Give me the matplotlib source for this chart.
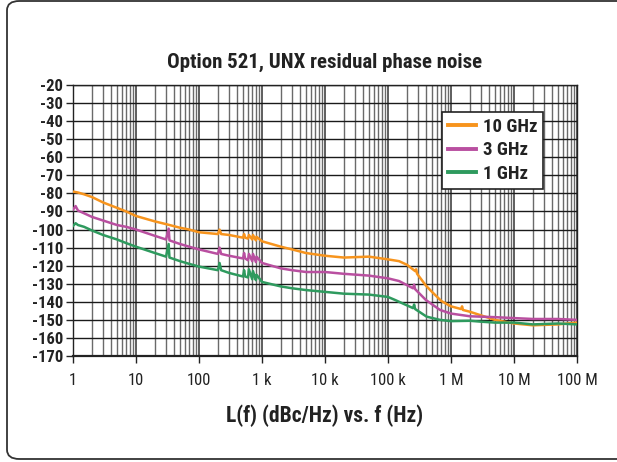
import numpy as np
import matplotlib.pyplot as plt
from matplotlib.patches import FancyBboxPatch
from matplotlib.ticker import FixedLocator, LogLocator, NullFormatter

plt.rcParams['font.family'] = ['Roboto Condensed', 'DejaVu Sans']

# The data (dBc/Hz vs offset frequency)
f_10g = [1, 1.2, 1.5, 2, 3, 5, 7, 10, 20, 30, 50, 70, 100, 200, 212, 225, 300, 500, 520, 540,
         600, 620, 700, 720, 800, 820, 1e3, 2e3, 3e3, 5e3, 1e4, 2e4, 5e4, 1e5, 1.5e5, 2e5, 2.7e5,
         2.8e5, 2.9e5, 4e5, 5e5, 7e5, 1e6, 1.45e6, 1.5e6, 1.55e6, 2e6, 3e6, 5e6, 1e7, 2e7, 5e7, 1e8]
v_10g = [-79, -79.5, -80.5, -82, -85, -88, -90, -92.5, -95.5, -97, -99, -100, -101.5, -102.5, -100, -102.5,
         -103, -104.5, -102.5, -104.5, -105, -103, -105.5, -103, -106, -104, -106.5, -109.5, -111, -113,
         -114.5, -115.5, -115, -116.5, -117.5, -119.5, -123, -122, -124.5, -131, -134.5, -139.5, -142.5,
         -144, -142.5, -144.5, -145.5, -147.5, -150, -152, -153, -152.5, -151.5]

f_3g = [1, 1.1, 1.2, 1.5, 2, 3, 5, 7, 10, 20, 30, 33, 34, 50, 70, 100, 200, 212, 225, 300, 500, 520,
        540, 600, 620, 700, 720, 800, 820, 1e3, 2e3, 3e3, 5e3, 1e4, 2e4, 5e4, 1e5, 1.5e5, 2.5e5, 2.6e5,
        2.7e5, 4e5, 6.7e5, 1e6, 2e6, 5e6, 1e7, 2e7, 5e7, 1e8]
v_3g = [-89, -87, -89.5, -91, -93, -95, -97.5, -98.5, -100, -103.5, -105.5, -99.5, -106, -108, -109.5,
        -111, -113.5, -110, -113.5, -114.5, -116, -113, -116, -117, -113.5, -117.5, -113.5, -118, -115,
        -118.5, -121.5, -122.5, -123.5, -123.5, -124.5, -125.5, -127, -128.5, -132.5, -130.5, -133, -139,
        -144.5, -146.5, -148, -148.5, -149, -149.5, -149.5, -150]

f_1g = [1, 1.1, 1.2, 1.5, 2, 3, 5, 7, 10, 20, 30, 33, 34, 50, 70, 100, 200, 212, 225, 300, 500, 520,
        540, 600, 620, 700, 720, 800, 820, 1e3, 2e3, 3e3, 5e3, 1e4, 2e4, 5e4, 1e5, 1.3e5, 2.5e5, 2.6e5,
        2.7e5, 4.1e5, 6.7e5, 1e6, 2e6, 3e6, 5e6, 1e7, 2e7, 5e7, 1e8]
v_1g = [-98, -96.5, -97.5, -98.5, -100.5, -103, -105.5, -107.5, -109.5, -113, -115, -108, -115.5, -117.5,
        -119, -120.5, -122.5, -118.5, -122.5, -124, -126, -122.5, -126, -126.5, -122, -127.5, -123, -128,
        -125, -129, -131.5, -132.5, -133.5, -134.5, -135.5, -136, -137.3, -139, -143.5, -141.5, -144,
        -148.2, -150, -150.7, -150.5, -151, -151.5, -151.5, -152.5, -152, -152.5]

series = [('10 GHz', f_10g, v_10g, '#F7941D'),
          ('3 GHz', f_3g, v_3g, '#B94FA0'),
          ('1 GHz', f_1g, v_1g, '#2E9A5E')]

x_ticks = [1, 10, 100, 1e3, 1e4, 1e5, 1e6, 1e7, 1e8]
x_labels = ['1', '10', '100', '1 k', '10 k', '100 k', '1 M', '10 M', '100 M']
y_ticks = list(range(-20, -171, -10))

fig = plt.figure(figsize=(6.17, 4.62), dpi=100)
ax = fig.add_axes([0.1183, 0.2294, 0.8168, 0.5866])

for name, f, v, c in series:
    ax.plot(f, v, color=c, lw=1.8, label=name, zorder=3)

ax.set_xscale('log')
ax.set_xlim(1, 1e8)
ax.set_ylim(-170, -20)
ax.xaxis.set_major_locator(FixedLocator(x_ticks))
ax.set_xticklabels(x_labels)
ax.xaxis.set_minor_locator(LogLocator(base=10, subs=np.arange(2, 10)))
ax.xaxis.set_minor_formatter(NullFormatter())
ax.set_yticks(y_ticks)
ax.set_yticklabels([str(t) for t in y_ticks], fontweight='bold')

ax.grid(True, which='major', axis='y', color='#1a1a1a', lw=1.0)
ax.grid(True, which='major', axis='x', color='#333333', lw=1.1)
ax.grid(True, which='minor', axis='x', color='#6a6a6a', lw=1.0)
for s in ax.spines.values():
    s.set_color('#222222')
    s.set_linewidth(1.0)
ax.spines['bottom'].set_linewidth(1.6)
ax.tick_params(axis='both', which='major', length=5, width=1, color='#222222',
               labelsize=12, labelcolor='#222222')
ax.tick_params(axis='y', pad=2)
ax.tick_params(axis='x', which='minor', length=0)
ax.tick_params(axis='x', pad=7)

ax.set_title('Option 521, UNX residual phase noise', fontsize=15, fontweight='bold',
             color='#222222', pad=12)
ax.set_xlabel('L(f) (dBc/Hz) vs. f (Hz)', fontsize=15.5, fontweight='bold', color='#222222',
              labelpad=12)

leg = ax.legend(loc='upper left', bbox_to_anchor=(0.732, 0.9), borderaxespad=0,
                fancybox=False, framealpha=1, edgecolor='#222222', fontsize=13.5,
                handlelength=1.5, borderpad=0.3, labelspacing=0.3, handletextpad=0.4)
leg.get_frame().set_linewidth(1.2)
for t in leg.get_texts():
    t.set_fontweight('bold')
    t.set_color('#222222')
for h in leg.get_lines():
    h.set_linewidth(2.8)

# outer frame, its right side runs off the picture as in the reference
box = FancyBboxPatch((7 / 617, 3 / 462), 700 / 617, 458 / 462,
                     boxstyle='round,pad=0,rounding_size=0.02', transform=fig.transFigure,
                     fill=False, edgecolor='#333333', lw=1.3, clip_on=False)
fig.patches.append(box)

fig.savefig('out.png', dpi=100)
